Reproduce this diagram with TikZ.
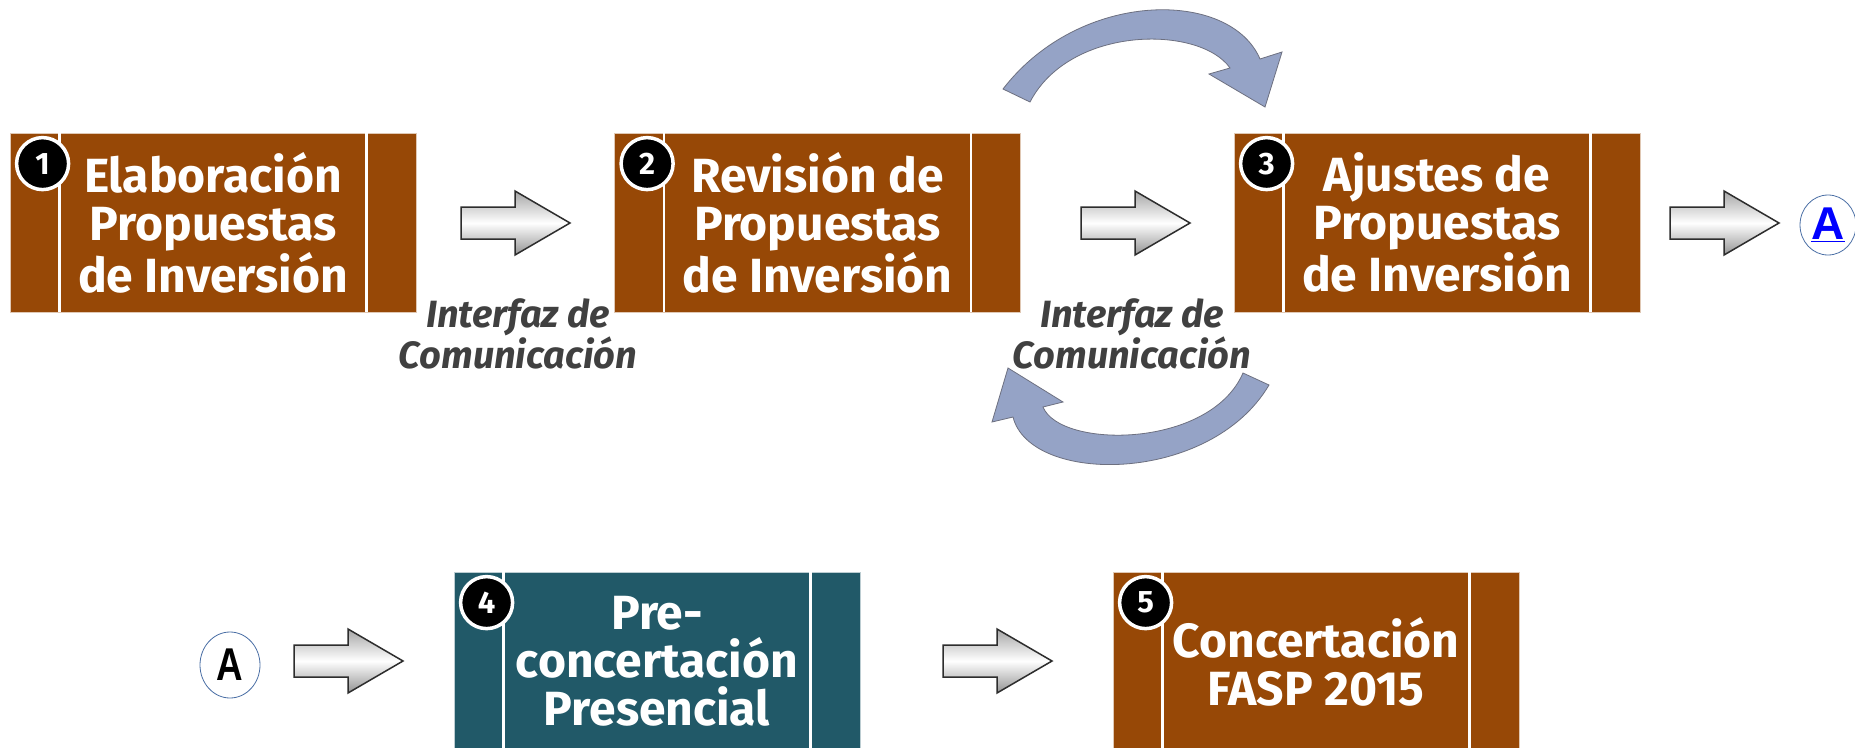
\documentclass[tikz,border=0pt]{standalone}
\usepackage{fontspec}
\setmainfont{Fira Sans}
\newfontfamily\arialfont{Liberation Sans}
\usetikzlibrary{calc,shapes.geometric}
\definecolor{boxbrown}{HTML}{974806}
\definecolor{boxteal}{HTML}{215968}
\definecolor{curvefill}{HTML}{95A3C6}
\definecolor{curveline}{HTML}{6D7080}
\definecolor{ifgray}{HTML}{404040}
\definecolor{ringblue}{HTML}{4A6FA5}
\tikzset{
  stepbox/.style={rectangle, draw=white!70!boxbrown, line width=0.8pt, fill=boxbrown, minimum width=406pt, minimum height=179pt, inner sep=0pt, text=white, align=center, font=\fontsize{48}{48}\selectfont\bfseries},
  numc/.style={circle, fill=black, draw=white, line width=3.5pt, minimum size=52pt, inner sep=0pt, text=white, font=\fontsize{31}{31}\selectfont\bfseries},
  iflabel/.style={align=center, text=ifgray, font=\fontsize{38}{36}\selectfont\bfseries\itshape},
  ringA/.style={ellipse, draw=ringblue, line width=0.8pt, fill=white, inner sep=0pt},
  curvearrow/.style={fill=curvefill, draw=curveline, line width=0.8pt},
  garrow/.pic={\shade[top color=gray!70, bottom color=gray!85, middle color=white, draw=gray!35!black, line width=1.5pt]
    (0,-16) -- (54,-16) -- (54,-32) -- (109,0) -- (54,32) -- (54,16) -- (0,16) -- cycle;}
}
\newcommand{\boxdividers}[1]{%
  \draw[white, line width=2.5pt] ($(#1.north west)+(50,0)$) -- ($(#1.south west)+(50,0)$);
  \draw[white, line width=2.5pt] ($(#1.north east)+(-50,0)$) -- ($(#1.south east)+(-50,0)$);}
\begin{document}
\begin{tikzpicture}[x=1pt,y=-1pt]
\useasboundingbox (0,0) rectangle (1855,747);
\clip (0,0) rectangle (1855,747);
\fill[white] (0,0) rectangle (1855,747);

% boxes
\node[stepbox] (b1) at (213,222.5) {Elaboración\\Propuestas\\de Inversión};
\node[stepbox] (b2) at (817.5,222.5) {Revisión de\\Propuestas\\de Inversión};
\node[stepbox] (b3) at (1437,222.5) {Ajustes de\\Propuestas\\de Inversión};
\node[stepbox, fill=boxteal, draw=white!70!boxteal] (b4) at (657,661.5) {Pre-\\concertación\\Presencial};
\node[stepbox] (b5) at (1316,661.5) {Concertación\\FASP 2015};
\boxdividers{b1}
\boxdividers{b2}
\boxdividers{b3}
\boxdividers{b4}
\boxdividers{b5}

% number circles
\node[numc] (n1) at ($(b1.north west)+(33,31)$) {1};
\node[numc] (n2) at ($(b2.north west)+(33,31)$) {2};
\node[numc] (n3) at ($(b3.north west)+(33,31)$) {3};
\node[numc] (n4) at ($(b4.north west)+(33,31)$) {4};
\node[numc] (n5) at ($(b5.north west)+(33,31)$) {5};

% gray block arrows
\pic at (461,223) {garrow};
\pic at (1081,223) {garrow};
\pic at (1670,223) {garrow};
\pic at (294,661) {garrow};
\pic at (943,661) {garrow};

% connector circles A
\node[ringA, minimum width=56pt, minimum height=60pt, font=\arialfont\fontsize{46}{46}\selectfont\bfseries, text=blue] (A1) at (1828,225) {\underline{A}};
\node[ringA, minimum width=60pt, minimum height=66pt, font=\arialfont\fontsize{46}{46}\selectfont\bfseries] (A2) at (230,665) {\scalebox{0.8}[1]{A}};

% interface labels
\node[iflabel] (i1) at (518,334) {Interfaz de\\Comunicación};
\node[iflabel] (i2) at (1132,334) {Interfaz de\\Comunicación};

% curved arrows
\path[curvearrow] (1003,89) .. controls (1080,-11) and (1230,-11) .. (1260,59)
  -- (1282,52) -- (1265,107) -- (1209,74) -- (1230,68)
  .. controls (1200,25) and (1070,25) .. (1030,102) -- cycle;
\path[curvearrow] (1269,385) .. controls (1210,485) and (1030,485) .. (1013,417)
  -- (992,422) -- (1008,368) -- (1063,402) -- (1043,407)
  .. controls (1060,449) and (1210,449) .. (1243,373) -- cycle;
\end{tikzpicture}
\end{document}
